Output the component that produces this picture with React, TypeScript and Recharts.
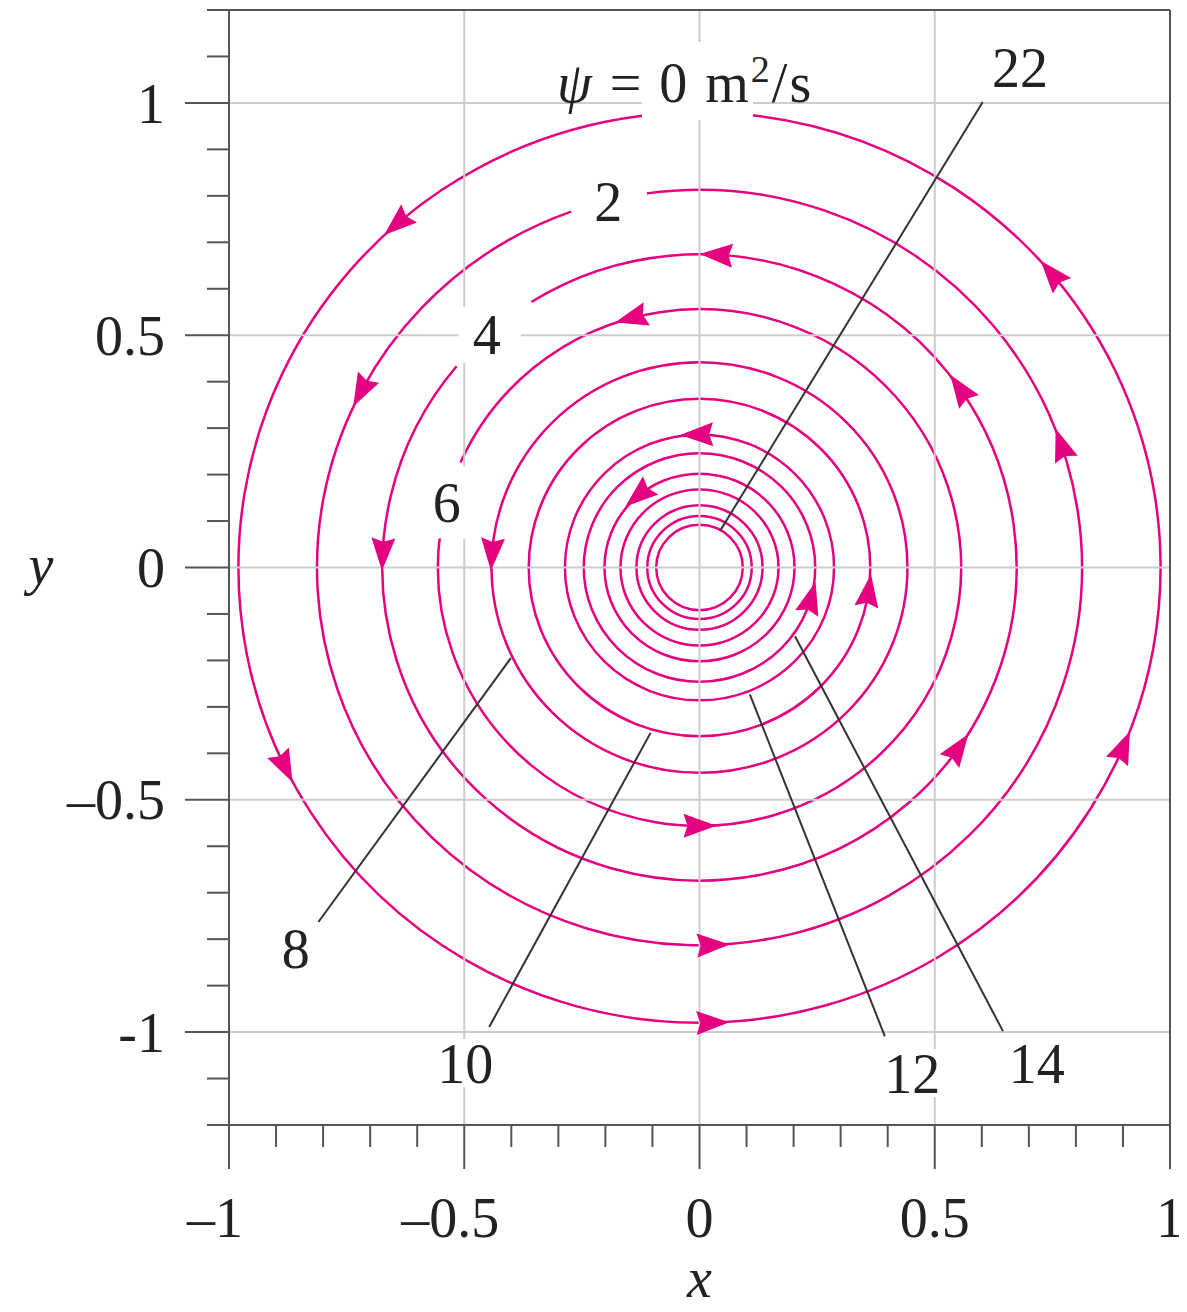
import React from 'react';
import {
  ScatterChart,
  Scatter,
  XAxis,
  YAxis,
  ReferenceLine,
  ReferenceArea,
  ReferenceDot,
} from 'recharts';

// streamlines: psi value and radius of each circle
const PSI = [0, 2, 4, 6, 8, 10, 12, 14, 16, 18, 20, 22, 24];
const RADIUS = [0.98, 0.813, 0.674, 0.556, 0.442, 0.363, 0.286, 0.246, 0.202, 0.168, 0.134, 0.111, 0.092];

// arrowheads: which streamline, and angle (deg, counterclockwise from +x)
const ARROW_PSI = [0, 0, 0, 0, 0, 2, 2, 2, 4, 4, 4, 4, 6, 6, 8, 10, 12, 14, 16];
const ARROW_ANGLE = [131, 206, 271.6, 336.8, 40.2, 152.2, 272, 19, 177.5, 86.9, 34.8, 324.8, 105.1, 270, 176.2, 352, 91, 344.5, 130];

// axis ticks
const X_TICKS = [-1, -0.9, -0.8, -0.7, -0.6, -0.5, -0.4, -0.3, -0.2, -0.1, 0, 0.1, 0.2, 0.3, 0.4, 0.5, 0.6, 0.7, 0.8, 0.9, 1];
const Y_TICKS = [-1.2, -1.1, -1, -0.9, -0.8, -0.7, -0.6, -0.5, -0.4, -0.3, -0.2, -0.1, 0, 0.1, 0.2, 0.3, 0.4, 0.5, 0.6, 0.7, 0.8, 0.9, 1, 1.1, 1.2];
const X_MAJOR = [-1, -0.5, 0, 0.5, 1];
const X_MAJOR_LABELS = ['\u20131', '\u20130.5', '0', '0.5', '1'];
const Y_MAJOR = [-1, -0.5, 0, 0.5, 1];
const Y_MAJOR_LABELS = ['-1', '\u20130.5', '0', '0.5', '1'];
const GRID_X = [-0.5, 0, 0.5];
const GRID_Y = [-1, -0.5, 0, 0.5, 1];

// gaps left in the labelled streamlines (deg)
const CIRCLE_GAPS: Record<number, [number, number]> = {
  0: [83.4, 97.1],
  2: [97.9, 109.6],
  4: [122, 140],
  6: [156, 172.6],
};

// leader lines from value labels to streamlines
const LEADERS = [
  { from: { x: 0.602, y: 1.002 }, to: { x: 0.045, y: 0.081 } },
  { from: { x: -0.401, y: -0.195 }, to: { x: -0.81, y: -0.763 } },
  { from: { x: -0.104, y: -0.356 }, to: { x: -0.447, y: -0.989 } },
  { from: { x: 0.107, y: -0.273 }, to: { x: 0.394, y: -1.009 } },
  { from: { x: 0.203, y: -0.148 }, to: { x: 0.645, y: -0.998 } },
];

// value labels (box = white patch [dx, dy, w, h] around the text centre)
const LABELS: { text: string; x: number; y: number; box?: number[] }[] = [
  { text: '22', x: 0.681, y: 1.077 },
  { text: '2', x: -0.194, y: 0.789 },
  { text: '4', x: -0.452, y: 0.501, box: [-28, -28, 62, 56] },
  { text: '6', x: -0.537, y: 0.14, box: [-22, -36, 44, 72] },
  { text: '8', x: -0.858, y: -0.819 },
  { text: '10', x: -0.498, y: -1.067, box: [-30, -24, 60, 48] },
  { text: '12', x: 0.452, y: -1.088, box: [-30, -24, 60, 48] },
  { text: '14', x: 0.717, y: -1.067 },
];

const PINK = '#e4007f';
const AXIS = '#555555';
const GRID = '#cccccc';
const TEXT = '#222222';
const FONT = '"Liberation Serif", "Times New Roman", serif';
const FS = 56;

const arrowData = ARROW_PSI.map((p, i) => {
  const r = RADIUS[PSI.indexOf(p)];
  const a = (ARROW_ANGLE[i] * Math.PI) / 180;
  return { x: r * Math.cos(a), y: r * Math.sin(a), angle: ARROW_ANGLE[i] };
});

const near = (a: number, b: number) => Math.abs(a - b) < 1e-6;

const XTick = (props: any) => {
  const { x, y, payload } = props;
  const v = payload.value;
  const i = X_MAJOR.findIndex((m) => near(m, v));
  const major = i >= 0;
  return (
    <g>
      <line x1={x} x2={x} y1={y} y2={y + (major ? 44 : 22)} stroke={AXIS} strokeWidth={2} />
      {major && (
        <text x={x + (v < 0 ? -14 : 0)} y={y + 92} dy="0.35em" textAnchor="middle" fontFamily={FONT} fontSize={FS} fill={TEXT}>
          {X_MAJOR_LABELS[i]}
        </text>
      )}
    </g>
  );
};

const YTick = (props: any) => {
  const { x, y, payload } = props;
  const v = payload.value;
  const i = Y_MAJOR.findIndex((m) => near(m, v));
  const major = i >= 0;
  return (
    <g>
      <line x1={x - (major ? 44 : 22)} x2={x} y1={y} y2={y} stroke={AXIS} strokeWidth={2} />
      {major && (
        <text x={x - 64} y={y} dy="0.35em" textAnchor="end" fontFamily={FONT} fontSize={FS} fill={TEXT}>
          {Y_MAJOR_LABELS[i]}
        </text>
      )}
    </g>
  );
};

const circleShape = (gap?: [number, number]) => (p: any) => {
  const { x, y, width, height } = p;
  const cx = x + width / 2;
  const cy = y + height / 2;
  const rx = Math.abs(width) / 2;
  const ry = Math.abs(height) / 2;
  if (!gap) {
    return <ellipse cx={cx} cy={cy} rx={rx} ry={ry} fill="none" stroke={PINK} strokeWidth={2.5} />;
  }
  const pt = (a: number) => [cx + rx * Math.cos((a * Math.PI) / 180), cy - ry * Math.sin((a * Math.PI) / 180)];
  const [sx, sy] = pt(gap[1]);
  const [ex, ey] = pt(gap[0]);
  return (
    <path d={`M${sx},${sy} A${rx},${ry} 0 1 0 ${ex},${ey}`} fill="none" stroke={PINK} strokeWidth={2.5} />
  );
};

const Arrow = (p: any) => {
  const { cx, cy, payload } = p;
  const t = (payload.angle * Math.PI) / 180;
  const rot = (Math.atan2(-Math.cos(t), -Math.sin(t)) * 180) / Math.PI;
  return (
    <polygon points="17,0 -16,-12 -12,0 -16,12" transform={`translate(${cx},${cy}) rotate(${rot})`} fill={PINK} />
  );
};

const labelShape = (item: { text: string; box?: number[] }) => (p: any) => {
  const { cx, cy } = p;
  return (
    <g>
      {item.box && <rect x={cx + item.box[0]} y={cy + item.box[1]} width={item.box[2]} height={item.box[3]} fill="#fff" />}
      <text x={cx} y={cy} dy="0.35em" textAnchor="middle" fontFamily={FONT} fontSize={FS} fill={TEXT}>
        {item.text}
      </text>
    </g>
  );
};

// psi = 0 m^2/s label, anchored at its left end on the baseline
const psiLabel = (p: any) => {
  const { cx, cy } = p;
  return (
    <g>
      <rect x={cx + 85} y={cy - 60} width={111} height={78} fill="#fff" />
      <text x={cx} y={cy} fontFamily={FONT} fontSize={FS} fill={TEXT} letterSpacing={2}>
        <tspan fontStyle="italic">ψ</tspan>
        <tspan> = 0 m</tspan>
        <tspan fontSize={38} dy={-20}>2</tspan>
        <tspan dy={20}>/s</tspan>
      </text>
    </g>
  );
};

export default function App() {
  return (
    <ScatterChart width={1179} height={1304} margin={{ top: 2, right: 17, bottom: 9, left: 0 }}>
      <XAxis
        type="number"
        dataKey="x"
        domain={[-1, 1]}
        ticks={X_TICKS}
        interval={0}
        tickLine={false}
        tickSize={0}
        tickMargin={0}
        axisLine={{ stroke: AXIS, strokeWidth: 2 }}
        tick={(p: any) => <XTick {...p} />}
        height={178}
        allowDataOverflow
        label={{
          content: (lp: any) => {
            const vb = lp.viewBox;
            return (
              <text x={vb.x + vb.width / 2} y={vb.y + 172} textAnchor="middle" fontFamily={FONT} fontSize={FS} fontStyle="italic" fill={TEXT}>
                x
              </text>
            );
          },
        }}
      />
      <YAxis
        type="number"
        dataKey="y"
        domain={[-1.2, 1.2]}
        ticks={Y_TICKS}
        interval={0}
        tickLine={false}
        tickSize={0}
        tickMargin={0}
        axisLine={{ stroke: AXIS, strokeWidth: 2 }}
        tick={(p: any) => <YTick {...p} />}
        width={221}
        allowDataOverflow
        label={{
          content: (lp: any) => {
            const vb = lp.viewBox;
            return (
              <text x={vb.x + 33} y={vb.y + vb.height / 2} dy="0.3em" textAnchor="middle" fontFamily={FONT} fontSize={FS} fontStyle="italic" fill={TEXT}>
                y
              </text>
            );
          },
        }}
      />

      {GRID_X.map((v) => (
        <ReferenceLine key={`gx${v}`} x={v} stroke={GRID} strokeWidth={2} />
      ))}
      {GRID_Y.map((v) => (
        <ReferenceLine key={`gy${v}`} y={v} stroke={GRID} strokeWidth={2} />
      ))}
      <ReferenceLine y={1.2} stroke={AXIS} strokeWidth={2} />
      <ReferenceLine x={1} stroke={AXIS} strokeWidth={2} />

      {PSI.map((p, i) => (
        <ReferenceArea
          key={`c${p}`}
          x1={-RADIUS[i]}
          x2={RADIUS[i]}
          y1={-RADIUS[i]}
          y2={RADIUS[i]}
          shape={circleShape(CIRCLE_GAPS[p])}
        />
      ))}

      {LEADERS.map((l, i) => (
        <ReferenceLine key={`l${i}`} segment={[l.from, l.to]} stroke="#333" strokeWidth={2} />
      ))}

      <Scatter data={arrowData} isAnimationActive={false} shape={(p: any) => <Arrow {...p} />} />

      <ReferenceDot x={-0.303} y={1.002} shape={psiLabel} />
      {LABELS.map((l) => (
        <ReferenceDot key={`t${l.text}`} x={l.x} y={l.y} shape={labelShape(l)} />
      ))}
    </ScatterChart>
  );
}
